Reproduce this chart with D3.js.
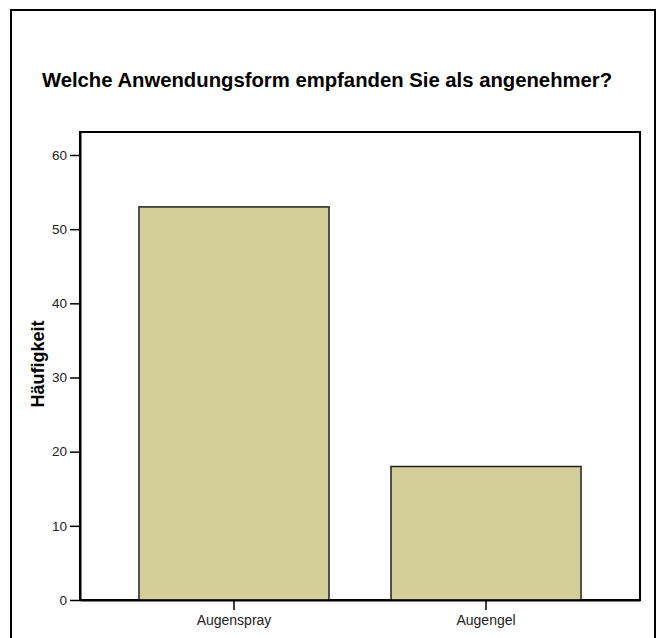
<!DOCTYPE html>
<html>
<head>
<meta charset="utf-8">
<script src="https://cdn.jsdelivr.net/npm/d3@7"></script>
<style>
  html, body { margin: 0; padding: 0; background: #fff; }
  svg { display: block; font-family: "Liberation Sans", Arial, Helvetica, sans-serif; }
</style>
</head>
<body>
<svg id="chart" width="656" height="638"></svg>
<script>
const categories = ["Augenspray", "Augengel"];
const values = [53, 18];
const yTicks = [0, 10, 20, 30, 40, 50, 60];
const titleText = "Welche Anwendungsform empfanden Sie als angenehmer?";
const yLabel = "Häufigkeit";

const svg = d3.select("#chart");
const plot = { left: 80, right: 640, top: 132, bottom: 600 };

// outer frame (bottom edge falls outside the picture)
svg.append("rect")
  .attr("x", 11).attr("y", 10)
  .attr("width", 644).attr("height", 700)
  .attr("fill", "none").attr("stroke", "#000").attr("stroke-width", 2);

svg.append("text")
  .attr("x", 327).attr("y", 87)
  .attr("text-anchor", "middle")
  .attr("font-size", 20.3).attr("font-weight", "bold")
  .attr("fill", "#000")
  .text(titleText);

const x = d3.scaleBand()
  .domain(categories)
  .range([plot.left, plot.right])
  .paddingInner(0.246)
  .paddingOuter(0.234);

const y = d3.scaleLinear()
  .domain([0, 63.1])
  .range([plot.bottom, plot.top]);

// plot frame
svg.append("rect")
  .attr("x", plot.left).attr("y", plot.top)
  .attr("width", plot.right - plot.left)
  .attr("height", plot.bottom - plot.top)
  .attr("fill", "#fff").attr("stroke", "#000").attr("stroke-width", 2);

// bars
svg.append("g").selectAll("rect")
  .data(categories.map((c, i) => ({ c, v: values[i] })))
  .join("rect")
  .attr("x", d => x(d.c))
  .attr("y", d => y(d.v))
  .attr("width", x.bandwidth())
  .attr("height", d => y(0) - y(d.v))
  .attr("fill", "#d3ce9a")
  .attr("stroke", "#222")
  .attr("stroke-width", 1.5);

// y axis
const yAxis = svg.append("g")
  .attr("transform", `translate(${plot.left},0)`)
  .call(d3.axisLeft(y).tickValues(yTicks).tickSizeInner(10).tickSizeOuter(0).tickPadding(3).tickFormat(d3.format("d")));
yAxis.select(".domain").attr("stroke", "#000").attr("stroke-width", 2);
yAxis.selectAll(".tick line").attr("stroke", "#000").attr("stroke-width", 1.5);
yAxis.selectAll(".tick text").attr("font-size", 13.5).attr("fill", "#222").attr("font-family", "Liberation Sans, Arial, sans-serif");

// x axis
const xAxis = svg.append("g")
  .attr("transform", `translate(0,${plot.bottom})`)
  .call(d3.axisBottom(x).tickSizeInner(10).tickSizeOuter(0).tickPadding(5));
xAxis.select(".domain").attr("stroke", "#000").attr("stroke-width", 2);
xAxis.selectAll(".tick line").attr("stroke", "#000").attr("stroke-width", 1.5);
xAxis.selectAll(".tick text").attr("font-size", 14).attr("fill", "#222").attr("font-family", "Liberation Sans, Arial, sans-serif");

// y label
svg.append("text")
  .attr("transform", "translate(44,364) rotate(-90)")
  .attr("text-anchor", "middle")
  .attr("font-size", 18).attr("font-weight", "bold")
  .attr("fill", "#000")
  .text(yLabel);
</script>
</body>
</html>
